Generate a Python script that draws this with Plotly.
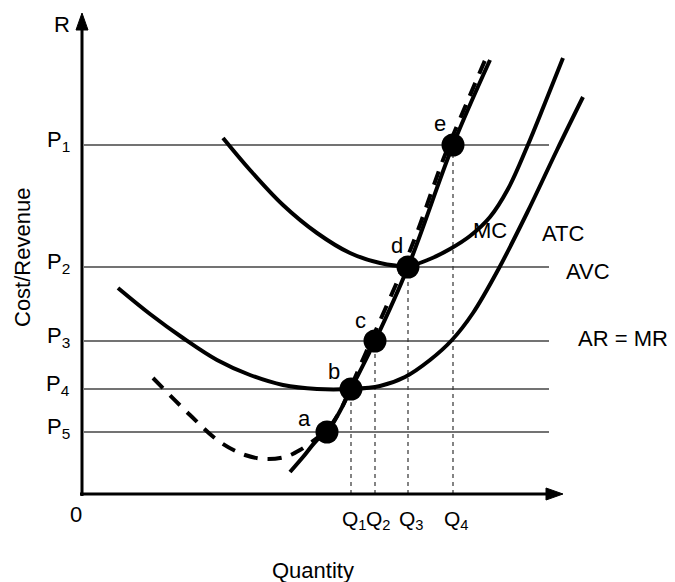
import plotly.graph_objects as go

# price levels (horizontal lines) and quantity levels (drop lines)
price_names = ["P<sub>1</sub>", "P<sub>2</sub>", "P<sub>3</sub>", "P<sub>4</sub>", "P<sub>5</sub>"]
price_levels = [349, 227, 153, 105, 62]
qty_names = ["Q<sub>1</sub>", "Q<sub>2</sub>", "Q<sub>3</sub>", "Q<sub>4</sub>"]
qty_levels = [269, 293, 326, 371]
qty_price = [105, 153, 227, 349]

# marked points on the MC line
point_names = ["a", "b", "c", "d", "e"]
point_q = [245, 269, 293, 326, 371]
point_p = [62, 105, 153, 227, 349]

# curves
mc_q = [208, 221, 235, 245, 258, 269, 293, 326, 371, 408]
mc_p = [22, 37, 54, 62, 83, 105, 153, 227, 349, 434]

dash_q = [71, 108, 138, 163, 183, 203, 218, 235, 245, 258, 268, 278, 289, 318, 336, 361, 386, 404]
dash_p = [116, 79, 52, 39, 35, 37, 44, 56, 64, 83, 105, 128, 153, 219, 264, 334, 394, 436]

upper_q = [141, 168, 201, 235, 268, 298, 326, 348, 368, 388, 408, 426, 445, 463, 481]
upper_p = [356, 324, 289, 261, 241, 231, 228, 235, 245, 258, 277, 305, 347, 391, 436]

lower_q = [36, 68, 101, 135, 168, 201, 235, 269, 298, 323, 348, 370, 391, 416, 445, 475, 501]
lower_p = [206, 180, 156, 134, 119, 109, 105, 105, 108, 117, 134, 154, 181, 224, 281, 344, 397]

curve_names = ["MC", "ATC", "AVC", "AR = MR"]

FONT = dict(family="Liberation Sans, Arial, sans-serif", size=22, color="black")

fig = go.Figure()

# price lines
for p in price_levels:
    fig.add_trace(go.Scatter(x=[2, 467], y=[p, p], mode="lines",
                             line=dict(color="#444", width=1.5)))

# dashed drop lines
for q, p in zip(qty_levels, qty_price):
    fig.add_trace(go.Scatter(x=[q, q], y=[0, p], mode="lines",
                             line=dict(color="#333", width=1.2, dash="4px,4px")))

fig.add_trace(go.Scatter(x=dash_q, y=dash_p, mode="lines", line_shape="spline",
                         line=dict(color="black", width=4, dash="14px,10px")))
fig.add_trace(go.Scatter(x=upper_q, y=upper_p, mode="lines", line_shape="spline",
                         line=dict(color="black", width=4)))
fig.add_trace(go.Scatter(x=lower_q, y=lower_p, mode="lines", line_shape="spline",
                         line=dict(color="black", width=4)))
fig.add_trace(go.Scatter(x=mc_q, y=mc_p, mode="lines", line_shape="spline",
                         line=dict(color="black", width=4)))
fig.add_trace(go.Scatter(x=point_q, y=point_p, mode="markers",
                         marker=dict(color="black", size=23)))

# axes with arrowheads
tip_y, tip_x, head = 481, 481, 17
fig.add_shape(type="line", x0=0, y0=-2, x1=0, y1=tip_y - 10, line=dict(color="black", width=3))
fig.add_shape(type="line", x0=-2, y0=0, x1=tip_x - 10, y1=0, line=dict(color="black", width=3))
fig.add_shape(type="path", path=f"M -6,{tip_y - head} L 6,{tip_y - head} L 0,{tip_y} Z",
              fillcolor="black", line=dict(color="black", width=1))
fig.add_shape(type="path", path=f"M {tip_x - head},-6 L {tip_x - head},6 L {tip_x},0 Z",
              fillcolor="black", line=dict(color="black", width=1))

# text
for name, p in zip(price_names, price_levels):
    fig.add_annotation(x=-10, y=p + 4, text=name, xanchor="right", yanchor="middle", font=FONT)
for name, q in zip(qty_names, qty_levels):
    fig.add_annotation(x=q + 3, y=-26, text=name, xanchor="center", yanchor="middle",
                       font=dict(FONT, size=21))

point_label_pos = [(222, 76), (252, 123), (278, 174), (315, 249), (358, 371)]
for name, (x, y) in zip(point_names, point_label_pos):
    fig.add_annotation(x=x, y=y, text=name, font=FONT)

curve_label_pos = [(408, 264), (481, 261), (506, 223), (541, 156)]
for name, (x, y) in zip(curve_names, curve_label_pos):
    fig.add_annotation(x=x, y=y, text=name, font=FONT)

fig.add_annotation(x=-20, y=470, text="R", font=FONT)
fig.add_annotation(x=-6, y=-20, text="0", font=FONT)
fig.add_annotation(x=231, y=-76, text="Quantity", font=FONT)
fig.add_annotation(x=-60, y=236, text="Cost/Revenue", textangle=-90, font=FONT)
fig.update_annotations(showarrow=False)

# the page body adds an 8px margin, so the figure is 8px smaller each way
fig.update_layout(
    width=667, height=574,
    margin=dict(l=0, r=0, t=0, b=0),
    paper_bgcolor="white", plot_bgcolor="white",
    showlegend=False,
    xaxis=dict(range=[-74, 593], visible=False),
    yaxis=dict(range=[-88, 486], visible=False),
)

fig.write_html("out.html")
